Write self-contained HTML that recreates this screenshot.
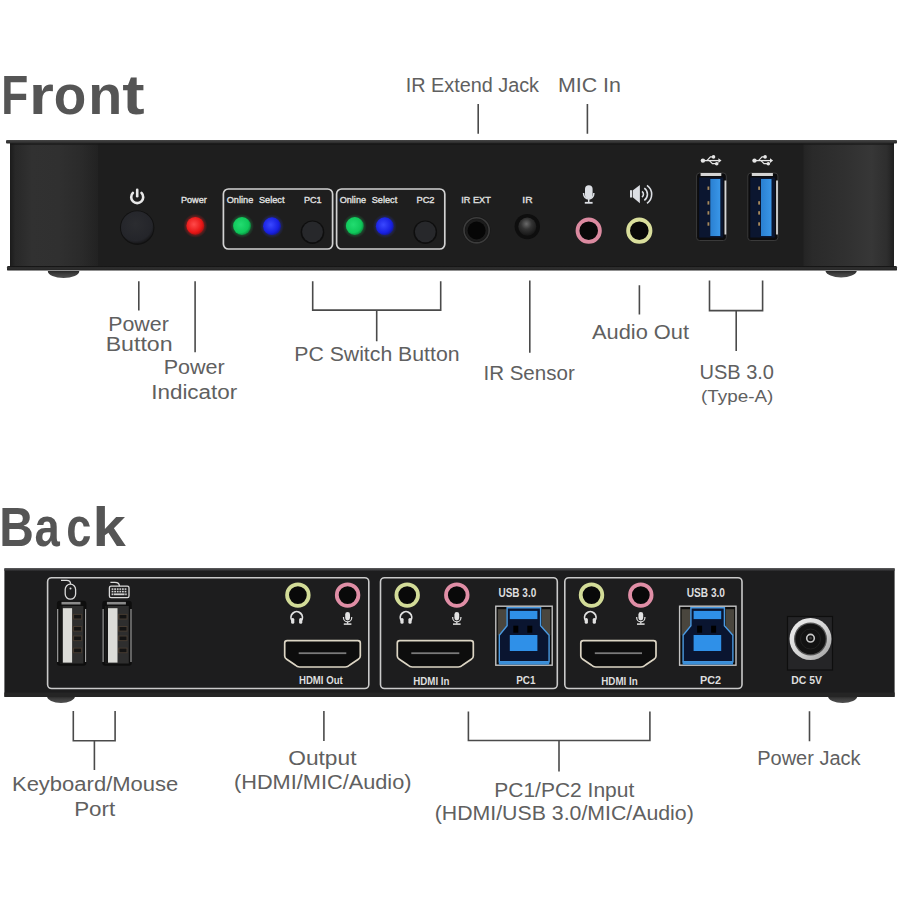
<!DOCTYPE html>
<html><head><meta charset="utf-8"><style>
html,body{margin:0;padding:0;background:#fff;}
body{width:900px;height:900px;overflow:hidden;}
svg{display:block;font-family:"Liberation Sans",sans-serif;}
</style></head><body>
<svg width="900" height="900" viewBox="0 0 900 900">
<defs>
<linearGradient id="capL" x1="0" x2="1" y1="0" y2="0">
 <stop offset="0" stop-color="#1b1b1b"/><stop offset="0.06" stop-color="#282828"/>
 <stop offset="0.25" stop-color="#313131"/><stop offset="0.55" stop-color="#303030"/>
 <stop offset="0.82" stop-color="#2a2a2a"/><stop offset="1" stop-color="#222"/></linearGradient>
<linearGradient id="capR" x1="0" x2="1" y1="0" y2="0">
 <stop offset="0" stop-color="#242424"/><stop offset="0.1" stop-color="#2a2a2a"/>
 <stop offset="0.5" stop-color="#313131"/><stop offset="0.75" stop-color="#373737"/>
 <stop offset="0.92" stop-color="#2e2e2e"/><stop offset="1" stop-color="#1f1f1f"/></linearGradient>
<linearGradient id="topEdge" x1="0" x2="0" y1="0" y2="1">
 <stop offset="0" stop-color="#5e5e60"/><stop offset="1" stop-color="#242426"/></linearGradient>
<linearGradient id="foot" x1="0" x2="0" y1="0" y2="1">
 <stop offset="0" stop-color="#262626"/><stop offset="0.45" stop-color="#3e3e3e"/><stop offset="1" stop-color="#505050"/></linearGradient>
<radialGradient id="ledR" cx="0.42" cy="0.42" r="0.6">
 <stop offset="0" stop-color="#ff4a4a"/><stop offset="0.75" stop-color="#e81616"/><stop offset="1" stop-color="#b01010"/></radialGradient>
<radialGradient id="ledG" cx="0.42" cy="0.42" r="0.6">
 <stop offset="0" stop-color="#22dc70"/><stop offset="0.75" stop-color="#0fc85a"/><stop offset="1" stop-color="#0a9040"/></radialGradient>
<radialGradient id="ledB" cx="0.42" cy="0.42" r="0.6">
 <stop offset="0" stop-color="#3a48ff"/><stop offset="0.75" stop-color="#1820e2"/><stop offset="1" stop-color="#1218a0"/></radialGradient>
<radialGradient id="glowR"><stop offset="0.6" stop-color="#ff2020" stop-opacity="0.5"/><stop offset="1" stop-color="#ff2020" stop-opacity="0"/></radialGradient>
<radialGradient id="glowG"><stop offset="0.6" stop-color="#20ff70" stop-opacity="0.3"/><stop offset="1" stop-color="#20ff70" stop-opacity="0"/></radialGradient>
<radialGradient id="glowB"><stop offset="0.6" stop-color="#3040ff" stop-opacity="0.35"/><stop offset="1" stop-color="#3040ff" stop-opacity="0"/></radialGradient>
<radialGradient id="btn" cx="0.45" cy="0.4" r="0.6">
 <stop offset="0" stop-color="#2b2c30"/><stop offset="0.85" stop-color="#24252a"/><stop offset="1" stop-color="#18181a"/></radialGradient>
<radialGradient id="dome" cx="0.45" cy="0.35" r="0.6">
 <stop offset="0" stop-color="#6a6a6a"/><stop offset="0.5" stop-color="#333"/><stop offset="1" stop-color="#1a1a1a"/></radialGradient>
<linearGradient id="usbBlue" x1="0" x2="1"><stop offset="0" stop-color="#2a80d2"/><stop offset="1" stop-color="#3996e8"/></linearGradient>
<linearGradient id="dcRing" x1="0" y1="0" x2="1" y2="1">
 <stop offset="0" stop-color="#f0f0f0"/><stop offset="0.55" stop-color="#d4d4d4"/><stop offset="1" stop-color="#9a9a9a"/></linearGradient>
<linearGradient id="lip" x1="0" x2="0" y1="0" y2="1"><stop offset="0" stop-color="#474747"/><stop offset="1" stop-color="#262626"/></linearGradient>
<linearGradient id="lip2" x1="0" x2="0" y1="0" y2="1"><stop offset="0" stop-color="#1a1a1a"/><stop offset="0.3" stop-color="#333"/><stop offset="1" stop-color="#222"/></linearGradient>
</defs>
<path d="M47.8 271 A15.7 7 0 0 0 79.3 271 Z" fill="url(#foot)"/>
<path d="M825.5 271 A15.7 7 0 0 0 856.8 271 Z" fill="url(#foot)"/>
<rect x="10" y="142" width="884" height="126" fill="#1e1e1e"/>
<rect x="10" y="143" width="88" height="124" fill="url(#capL)"/>
<rect x="803.5" y="143" width="90.5" height="124" fill="url(#capR)"/>
<rect x="6" y="140" width="891" height="3.6" rx="1" fill="url(#lip)"/>
<rect x="10" y="143.6" width="884" height="1" fill="#161616"/>
<rect x="7" y="266" width="890" height="4.6" rx="1.2" fill="url(#lip2)"/>
<rect x="10" y="266.2" width="884" height="1" fill="#151515"/>
<path d="M132.9 192.9 A6 6 0 1 0 141.5 192.9" fill="none" stroke="#e8e8e8" stroke-width="2.6" stroke-linecap="round"/>
<line x1="137.2" y1="189.8" x2="137.2" y2="196.2" stroke="#e8e8e8" stroke-width="2.6" stroke-linecap="round"/>
<circle cx="137.2" cy="227.7" r="17.2" fill="#111"/>
<circle cx="137.2" cy="227.4" r="16.2" fill="url(#btn)"/>
<circle cx="195.3" cy="225.8" r="12" fill="url(#glowR)"/>
<circle cx="195.3" cy="225.8" r="8.9" fill="url(#ledR)"/>
<rect x="223.4" y="189" width="109.2" height="60" rx="5" fill="none" stroke="#d2d2d2" stroke-width="1.7"/>
<rect x="336.6" y="189" width="108.2" height="60" rx="5" fill="none" stroke="#d2d2d2" stroke-width="1.7"/>
<circle cx="242" cy="226" r="12" fill="url(#glowG)"/>
<circle cx="242" cy="226" r="8.9" fill="url(#ledG)"/>
<circle cx="272" cy="226.2" r="12" fill="url(#glowB)"/>
<circle cx="272" cy="226.2" r="8.9" fill="url(#ledB)"/>
<circle cx="312.5" cy="232.2" r="11.8" fill="#0e0e0e"/>
<circle cx="312.5" cy="231.8" r="10.4" fill="#27282b"/>
<circle cx="354.8" cy="226" r="12" fill="url(#glowG)"/>
<circle cx="354.8" cy="226" r="8.9" fill="url(#ledG)"/>
<circle cx="384.8" cy="226.2" r="12" fill="url(#glowB)"/>
<circle cx="384.8" cy="226.2" r="8.9" fill="url(#ledB)"/>
<circle cx="425.3" cy="232.2" r="11.8" fill="#0e0e0e"/>
<circle cx="425.3" cy="231.8" r="10.4" fill="#27282b"/>
<circle cx="476.6" cy="230.3" r="13.8" fill="#161616"/>
<circle cx="476.6" cy="230.3" r="12.6" fill="none" stroke="#3c3c3c" stroke-width="1.6"/>
<circle cx="476.6" cy="230.3" r="11.2" fill="#1c1c1c"/>
<circle cx="476.6" cy="230.5" r="9" fill="#060606"/>
<circle cx="527.3" cy="226.6" r="12.7" fill="#0e0e0e"/>
<circle cx="527.3" cy="226.6" r="9" fill="url(#dome)"/>
<circle cx="588.7" cy="230.7" r="11.2" fill="#090909" stroke="#db8aa0" stroke-width="3.8"/>
<circle cx="639.3" cy="230.7" r="11.2" fill="#090909" stroke="#d9de9c" stroke-width="3.8"/>
<rect x="585" y="185.3" width="7.6" height="13.5" rx="3.8" fill="#dcdfe4"/>
<path d="M583.6 193 v0.8 a5.1 5.1 0 0 0 10.2 0 v-0.8" fill="none" stroke="#dcdfe4" stroke-width="1.5"/>
<line x1="588.7" y1="198.5" x2="588.7" y2="202.5" stroke="#dcdfe4" stroke-width="1.5"/>
<line x1="584.8" y1="202.8" x2="592.6" y2="202.8" stroke="#dcdfe4" stroke-width="1.8"/>
<rect x="630" y="190.2" width="2.3" height="7.3" fill="#dcdfe4"/>
<path d="M633 190.3 L639.9 185 V203.3 L633 197.5 Z" fill="#dcdfe4"/>
<path d="M642 191.4 a3.6 3.6 0 0 1 0 5.8 M644.3 188.2 a7.5 7.5 0 0 1 0 12.2 M647 185.3 a11 11 0 0 1 0 18" fill="none" stroke="#dcdfe4" stroke-width="1.6"/>
<g fill="#e6e6e6" stroke="#e6e6e6"><circle cx="702.9" cy="160.6" r="2.2" stroke="none"/><line x1="702.9" y1="160.6" x2="718.9" y2="160.6" stroke-width="1.3"/><path d="M718.4 158.29999999999998 L721.5 160.6 L718.4 162.9 Z" stroke="none"/><path d="M706.9 160.6 L710.4 156.9 H713.4" fill="none" stroke-width="1.2"/><path d="M709.4 160.6 L712.4 163.7 H716.4" fill="none" stroke-width="1.2"/><circle cx="713.5" cy="156.9" r="1.8" stroke="none"/><circle cx="716.6999999999999" cy="163.7" r="1.8" stroke="none"/></g>
<g fill="#e6e6e6" stroke="#e6e6e6"><circle cx="754.5" cy="160.6" r="2.2" stroke="none"/><line x1="754.5" y1="160.6" x2="770.5" y2="160.6" stroke-width="1.3"/><path d="M770.0 158.29999999999998 L773.1 160.6 L770.0 162.9 Z" stroke="none"/><path d="M758.5 160.6 L762.0 156.9 H765.0" fill="none" stroke-width="1.2"/><path d="M761.0 160.6 L764.0 163.7 H768.0" fill="none" stroke-width="1.2"/><circle cx="765.1" cy="156.9" r="1.8" stroke="none"/><circle cx="768.3" cy="163.7" r="1.8" stroke="none"/></g>
<rect x="696.6" y="173" width="29.699999999999932" height="67.5" rx="3" fill="#0c0c0e" stroke="#3a3a3a" stroke-width="1"/>
<rect x="700.6" y="173" width="20.699999999999932" height="3" fill="#d4d4d4"/>
<rect x="724.5" y="180.5" width="1.8" height="54" fill="#d6d6d6"/>
<rect x="699.1" y="177.5" width="24.199999999999932" height="60" fill="#0b1630"/>
<rect x="710.3" y="179" width="10.0" height="57" fill="url(#usbBlue)"/>
<rect x="707.5" y="186.5" width="1.8" height="3.4" fill="#a88a5c"/>
<rect x="707.5" y="201.2" width="1.8" height="3.4" fill="#a88a5c"/>
<rect x="707.5" y="211.2" width="1.8" height="3.4" fill="#a88a5c"/>
<rect x="707.5" y="222.3" width="1.8" height="3.4" fill="#a88a5c"/>
<rect x="747.8" y="173" width="30.100000000000023" height="67.5" rx="3" fill="#0c0c0e" stroke="#3a3a3a" stroke-width="1"/>
<rect x="751.8" y="173" width="21.100000000000023" height="3" fill="#d4d4d4"/>
<rect x="776.1" y="180.5" width="1.8" height="54" fill="#d6d6d6"/>
<rect x="750.3" y="177.5" width="24.600000000000023" height="60" fill="#0b1630"/>
<rect x="761" y="179" width="10.5" height="57" fill="url(#usbBlue)"/>
<rect x="758.2" y="186.5" width="1.8" height="3.4" fill="#a88a5c"/>
<rect x="758.2" y="201.2" width="1.8" height="3.4" fill="#a88a5c"/>
<rect x="758.2" y="211.2" width="1.8" height="3.4" fill="#a88a5c"/>
<rect x="758.2" y="222.3" width="1.8" height="3.4" fill="#a88a5c"/>
<path d="M47 696 A14 7 0 0 0 75 696 Z" fill="url(#foot)"/>
<path d="M828 696 A14.6 7 0 0 0 857.3 696 Z" fill="url(#foot)"/>
<rect x="4.4" y="568" width="890.2" height="129" rx="1" fill="#1d1d1e"/>
<rect x="4.4" y="568" width="890.2" height="3" rx="1" fill="url(#topEdge)"/>
<rect x="4.4" y="692.5" width="890.2" height="4.5" fill="#252525"/>
<rect x="47.6" y="577.7" width="321.2" height="110.8" rx="4" fill="none" stroke="#cacaca" stroke-width="1.6"/>
<rect x="380.5" y="577.7" width="176.79999999999995" height="110.8" rx="4" fill="none" stroke="#cacaca" stroke-width="1.6"/>
<rect x="564.8" y="577.7" width="177.20000000000005" height="110.8" rx="4" fill="none" stroke="#cacaca" stroke-width="1.6"/>
<g fill="none" stroke="#dadada" stroke-width="1.3"><rect x="65.2" y="584.2" width="10.4" height="15" rx="5.2"/><path d="M70.6 584.2 q0 -3.8 -4 -3.8 h-5.6"/><rect x="109.4" y="586.2" width="19.6" height="11.4" rx="1.6"/><path d="M119.4 586.2 q0 -3.8 -4.5 -3.8 h-4.5"/></g>
<circle cx="70.5" cy="588.6" r="1" fill="#e0e0e0"/>
<g fill="#cfcfcf"><rect x="111.6" y="588.3" width="1.8" height="1.6"/><rect x="111.6" y="590.8" width="1.8" height="1.6"/><rect x="114.19999999999999" y="588.3" width="1.8" height="1.6"/><rect x="114.19999999999999" y="590.8" width="1.8" height="1.6"/><rect x="116.8" y="588.3" width="1.8" height="1.6"/><rect x="116.8" y="590.8" width="1.8" height="1.6"/><rect x="119.39999999999999" y="588.3" width="1.8" height="1.6"/><rect x="119.39999999999999" y="590.8" width="1.8" height="1.6"/><rect x="122.0" y="588.3" width="1.8" height="1.6"/><rect x="122.0" y="590.8" width="1.8" height="1.6"/><rect x="124.6" y="588.3" width="1.8" height="1.6"/><rect x="124.6" y="590.8" width="1.8" height="1.6"/><rect x="113.6" y="593.4" width="11" height="1.8"/><rect x="111.6" y="593.4" width="1.5" height="1.8"/><rect x="125.2" y="593.4" width="1.5" height="1.8"/></g>
<rect x="56.9" y="600.8" width="29.5" height="65" rx="3" fill="#0e0e0e"/>
<path d="M57.699999999999996 609 V662 M85.6 609 V662" stroke="#a8a8a8" stroke-width="1.1"/>
<rect x="61.5" y="601.9" width="19" height="2.6" fill="#8a8a8a"/>
<rect x="59.9" y="606" width="23.5" height="57.5" fill="#2e2e2e"/>
<rect x="62.6" y="608.2" width="9.5" height="54.4" fill="#dcdcd8"/>
<rect x="59.9" y="606" width="2.7" height="57.5" fill="#161616"/>
<rect x="72.6" y="613.9000000000001" width="9.5" height="5.6" fill="#453a30"/>
<rect x="74.1" y="614.9000000000001" width="7" height="3.6" fill="#141414"/>
<rect x="72.6" y="626.0" width="9.5" height="5.6" fill="#453a30"/>
<rect x="74.1" y="627.0" width="7" height="3.6" fill="#141414"/>
<rect x="72.6" y="635.5" width="9.5" height="5.6" fill="#453a30"/>
<rect x="74.1" y="636.5" width="7" height="3.6" fill="#141414"/>
<rect x="72.6" y="647.6" width="9.5" height="5.6" fill="#453a30"/>
<rect x="74.1" y="648.6" width="7" height="3.6" fill="#141414"/>
<rect x="102.3" y="600.8" width="29.5" height="65" rx="3" fill="#0e0e0e"/>
<path d="M103.1 609 V662 M131.0 609 V662" stroke="#a8a8a8" stroke-width="1.1"/>
<rect x="106.89999999999999" y="601.9" width="19" height="2.6" fill="#8a8a8a"/>
<rect x="105.3" y="606" width="23.5" height="57.5" fill="#2e2e2e"/>
<rect x="108.0" y="608.2" width="9.5" height="54.4" fill="#dcdcd8"/>
<rect x="105.3" y="606" width="2.7" height="57.5" fill="#161616"/>
<rect x="118.0" y="613.9000000000001" width="9.5" height="5.6" fill="#453a30"/>
<rect x="119.5" y="614.9000000000001" width="7" height="3.6" fill="#141414"/>
<rect x="118.0" y="626.0" width="9.5" height="5.6" fill="#453a30"/>
<rect x="119.5" y="627.0" width="7" height="3.6" fill="#141414"/>
<rect x="118.0" y="635.5" width="9.5" height="5.6" fill="#453a30"/>
<rect x="119.5" y="636.5" width="7" height="3.6" fill="#141414"/>
<rect x="118.0" y="647.6" width="9.5" height="5.6" fill="#453a30"/>
<rect x="119.5" y="648.6" width="7" height="3.6" fill="#141414"/>
<circle cx="297.9" cy="595.1" r="10.8" fill="#090909" stroke="#d3dc98" stroke-width="3.8"/>
<circle cx="347.6" cy="595.1" r="10.8" fill="#090909" stroke="#e08ea6" stroke-width="3.8"/>
<path d="M292.3 621.0 A5.7 5.7 0 1 1 301.09999999999997 621.0" fill="none" stroke="#e2e2e2" stroke-width="1.8"/>
<rect x="291.09999999999997" y="618.0" width="3.2" height="5.8" rx="1.5" fill="#e2e2e2"/><rect x="299.09999999999997" y="618.0" width="3.2" height="5.8" rx="1.5" fill="#e2e2e2"/>
<rect x="345.20000000000005" y="612.0" width="4.8" height="8.5" rx="2.4" fill="#e2e2e2"/>
<path d="M343.5 617.0 v0.8 a4.1 4.1 0 0 0 8.2 0 v-0.8" fill="none" stroke="#e2e2e2" stroke-width="1.2"/>
<line x1="347.6" y1="621.9" x2="347.6" y2="623.8" stroke="#e2e2e2" stroke-width="1.2"/><line x1="343.8" y1="624.1" x2="351.40000000000003" y2="624.1" stroke="#e2e2e2" stroke-width="1.5"/>
<path d="M287.2 640.6 H357.8 Q360.3 640.6 360.3 643 V656 Q360.3 658 358.3 659.3 L349.8 665 Q347.8 667 345.3 667 H299.7 Q297.2 667 295.2 665 L286.7 659.3 Q284.7 658 284.7 656 V643 Q284.7 640.6 287.2 640.6 Z" fill="#0d0d0d" stroke="#dcd5c4" stroke-width="1.7" stroke-linejoin="round"/>
<rect x="298.7" y="652.3" width="47.60000000000002" height="1.8" fill="#7a7a7a"/>
<circle cx="407.2" cy="595.1" r="10.8" fill="#090909" stroke="#d3dc98" stroke-width="3.8"/>
<circle cx="456.8" cy="595.1" r="10.8" fill="#090909" stroke="#e08ea6" stroke-width="3.8"/>
<path d="M401.6 621.0 A5.7 5.7 0 1 1 410.4 621.0" fill="none" stroke="#e2e2e2" stroke-width="1.8"/>
<rect x="400.4" y="618.0" width="3.2" height="5.8" rx="1.5" fill="#e2e2e2"/><rect x="408.4" y="618.0" width="3.2" height="5.8" rx="1.5" fill="#e2e2e2"/>
<rect x="454.40000000000003" y="612.0" width="4.8" height="8.5" rx="2.4" fill="#e2e2e2"/>
<path d="M452.7 617.0 v0.8 a4.1 4.1 0 0 0 8.2 0 v-0.8" fill="none" stroke="#e2e2e2" stroke-width="1.2"/>
<line x1="456.8" y1="621.9" x2="456.8" y2="623.8" stroke="#e2e2e2" stroke-width="1.2"/><line x1="453.0" y1="624.1" x2="460.6" y2="624.1" stroke="#e2e2e2" stroke-width="1.5"/>
<path d="M399.8 640.6 H470.8 Q473.3 640.6 473.3 643 V656 Q473.3 658 471.3 659.3 L462.8 665 Q460.8 667 458.3 667 H412.3 Q409.8 667 407.8 665 L399.3 659.3 Q397.3 658 397.3 656 V643 Q397.3 640.6 399.8 640.6 Z" fill="#0d0d0d" stroke="#dcd5c4" stroke-width="1.7" stroke-linejoin="round"/>
<rect x="411.3" y="652.3" width="48.0" height="1.8" fill="#7a7a7a"/>
<circle cx="591.5" cy="595.1" r="10.8" fill="#090909" stroke="#d3dc98" stroke-width="3.8"/>
<circle cx="640.8" cy="595.1" r="10.8" fill="#090909" stroke="#e08ea6" stroke-width="3.8"/>
<path d="M585.9 621.0 A5.7 5.7 0 1 1 594.6999999999999 621.0" fill="none" stroke="#e2e2e2" stroke-width="1.8"/>
<rect x="584.6999999999999" y="618.0" width="3.2" height="5.8" rx="1.5" fill="#e2e2e2"/><rect x="592.6999999999999" y="618.0" width="3.2" height="5.8" rx="1.5" fill="#e2e2e2"/>
<rect x="638.4" y="612.0" width="4.8" height="8.5" rx="2.4" fill="#e2e2e2"/>
<path d="M636.6999999999999 617.0 v0.8 a4.1 4.1 0 0 0 8.2 0 v-0.8" fill="none" stroke="#e2e2e2" stroke-width="1.2"/>
<line x1="640.8" y1="621.9" x2="640.8" y2="623.8" stroke="#e2e2e2" stroke-width="1.2"/><line x1="637.0" y1="624.1" x2="644.5999999999999" y2="624.1" stroke="#e2e2e2" stroke-width="1.5"/>
<path d="M583.3 640.6 H653.5 Q656 640.6 656 643 V656 Q656 658 654 659.3 L645.5 665 Q643.5 667 641 667 H595.8 Q593.3 667 591.3 665 L582.8 659.3 Q580.8 658 580.8 656 V643 Q580.8 640.6 583.3 640.6 Z" fill="#0d0d0d" stroke="#dcd5c4" stroke-width="1.7" stroke-linejoin="round"/>
<rect x="594.8" y="652.3" width="47.200000000000045" height="1.8" fill="#7a7a7a"/>
<rect x="495.8" y="606.2" width="56.4" height="59" fill="#0c0c0c" stroke="#c4c4c4" stroke-width="1.4"/>
<rect x="497.8" y="609.2" width="9" height="26" fill="#4a463e"/>
<rect x="541.8" y="609.2" width="8.5" height="26" fill="#4a463e"/>
<path d="M507.1 607.7 H540.6 V625.7 L549.1 635.2 V661.7 H499.3 V635.2 L507.1 625.7 Z" fill="#0a1530" stroke="#4a9ae2" stroke-width="1.4"/>
<rect x="509.8" y="610.9000000000001" width="27.6" height="8.2" fill="#2f90e8"/>
<rect x="513.3" y="625.7" width="5" height="7" fill="#000"/><rect x="527.3" y="625.7" width="5" height="7" fill="#000"/>
<rect x="509.8" y="635.0" width="27.6" height="16" fill="#2f90e8"/>
<rect x="498.8" y="661.4000000000001" width="50.4" height="3.2" fill="#3a8ed8"/>
<rect x="679.6" y="606.2" width="56.4" height="59" fill="#0c0c0c" stroke="#c4c4c4" stroke-width="1.4"/>
<rect x="681.6" y="609.2" width="9" height="26" fill="#4a463e"/>
<rect x="725.6" y="609.2" width="8.5" height="26" fill="#4a463e"/>
<path d="M690.9 607.7 H724.4 V625.7 L732.9 635.2 V661.7 H683.1 V635.2 L690.9 625.7 Z" fill="#0a1530" stroke="#4a9ae2" stroke-width="1.4"/>
<rect x="693.6" y="610.9000000000001" width="27.6" height="8.2" fill="#2f90e8"/>
<rect x="697.1" y="625.7" width="5" height="7" fill="#000"/><rect x="711.1" y="625.7" width="5" height="7" fill="#000"/>
<rect x="693.6" y="635.0" width="27.6" height="16" fill="#2f90e8"/>
<rect x="682.6" y="661.4000000000001" width="50.4" height="3.2" fill="#3a8ed8"/>
<rect x="787.5" y="616.5" width="45" height="53.5" fill="#252527" stroke="#0e0e0e" stroke-width="1.2"/>
<circle cx="810.5" cy="639" r="21" fill="url(#dcRing)"/>
<circle cx="810.5" cy="639" r="16.5" fill="#555"/>
<circle cx="810.5" cy="639" r="15.2" fill="#121212"/>
<circle cx="810.5" cy="639" r="10" fill="none" stroke="#202020" stroke-width="1"/>
<circle cx="810.5" cy="638.2" r="3.8" fill="none" stroke="#c8c8c8" stroke-width="1.6"/><circle cx="810.5" cy="638.2" r="1.4" fill="#3a3a3a"/>
<path d="M478.2 104 V133.7 M587.4 104 V133.7 M138.8 281.2 V310.6 M195.1 281.2 V352.3 M312.7 281.2 V310.1 H440.7 V281.2 M376.7 310.1 V341.2 M529.8 280.5 V352.7 M639.4 285.3 V314.6 M709.5 280.5 V310.6 H762.6 V280.5 M736.2 310.6 V350.9 M73.3 711.1 V740.7 H115.1 V711.1 M94.4 740.7 V770 M323.9 711 V741 M468.4 711.4 V740.5 H649.9 V711.4 M559 740.5 V771.4 M809.5 711.2 V741.2" fill="none" stroke="#4a4a4a" stroke-width="1.6"/>
<text x="405.72" y="92.40" font-size="20" font-weight="normal" fill="#606060"  textLength="133.28" lengthAdjust="spacingAndGlyphs">IR Extend Jack</text>
<text x="557.91" y="92.40" font-size="20" font-weight="normal" fill="#606060"  textLength="62.91" lengthAdjust="spacingAndGlyphs">MIC In</text>
<text x="108.19" y="330.50" font-size="20" font-weight="normal" fill="#606060"  textLength="60.57" lengthAdjust="spacingAndGlyphs">Power</text>
<text x="105.66" y="351.40" font-size="20" font-weight="normal" fill="#606060"  textLength="66.91" lengthAdjust="spacingAndGlyphs">Button</text>
<text x="163.69" y="373.70" font-size="20" font-weight="normal" fill="#606060"  textLength="61.07" lengthAdjust="spacingAndGlyphs">Power</text>
<text x="151.19" y="398.60" font-size="20" font-weight="normal" fill="#606060"  textLength="86.07" lengthAdjust="spacingAndGlyphs">Indicator</text>
<text x="294.22" y="360.60" font-size="20" font-weight="normal" fill="#606060"  textLength="165.31" lengthAdjust="spacingAndGlyphs">PC Switch Button</text>
<text x="483.45" y="379.50" font-size="20" font-weight="normal" fill="#606060"  textLength="91.30" lengthAdjust="spacingAndGlyphs">IR Sensor</text>
<text x="592.00" y="339.20" font-size="20" font-weight="normal" fill="#606060"  textLength="97.00" lengthAdjust="spacingAndGlyphs">Audio Out</text>
<text x="699.45" y="379.00" font-size="20" font-weight="normal" fill="#606060"  textLength="74.57" lengthAdjust="spacingAndGlyphs">USB 3.0</text>
<text x="700.97" y="401.70" font-size="17" font-weight="normal" fill="#606060"  textLength="72.32" lengthAdjust="spacingAndGlyphs">(Type-A)</text>
<text x="11.97" y="791.10" font-size="20" font-weight="normal" fill="#606060"  textLength="166.30" lengthAdjust="spacingAndGlyphs">Keyboard/Mouse</text>
<text x="74.16" y="815.60" font-size="20" font-weight="normal" fill="#606060"  textLength="41.09" lengthAdjust="spacingAndGlyphs">Port</text>
<text x="288.23" y="764.80" font-size="20" font-weight="normal" fill="#606060"  textLength="68.27" lengthAdjust="spacingAndGlyphs">Output</text>
<text x="233.98" y="788.50" font-size="20" font-weight="normal" fill="#606060"  textLength="177.54" lengthAdjust="spacingAndGlyphs">(HDMI/MIC/Audio)</text>
<text x="494.22" y="796.60" font-size="20" font-weight="normal" fill="#606060"  textLength="140.03" lengthAdjust="spacingAndGlyphs">PC1/PC2 Input</text>
<text x="434.74" y="820.00" font-size="20" font-weight="normal" fill="#606060"  textLength="259.02" lengthAdjust="spacingAndGlyphs">(HDMI/USB 3.0/MIC/Audio)</text>
<text x="757.23" y="765.30" font-size="20" font-weight="normal" fill="#606060"  textLength="103.27" lengthAdjust="spacingAndGlyphs">Power Jack</text>
<text x="1.23" y="114.20" font-size="55" font-weight="bold" fill="#555555"  textLength="27.06" lengthAdjust="spacingAndGlyphs">F</text>
<text x="29.10" y="114.20" font-size="55" font-weight="bold" fill="#555555"  textLength="24.85" lengthAdjust="spacingAndGlyphs">r</text>
<text x="53.75" y="114.20" font-size="55" font-weight="bold" fill="#555555"  textLength="32.49" lengthAdjust="spacingAndGlyphs">o</text>
<text x="88.25" y="114.20" font-size="55" font-weight="bold" fill="#555555"  textLength="33.99" lengthAdjust="spacingAndGlyphs">n</text>
<text x="122.19" y="114.20" font-size="55" font-weight="bold" fill="#555555"  textLength="22.37" lengthAdjust="spacingAndGlyphs">t</text>
<text x="-0.76" y="545.80" font-size="55" font-weight="bold" fill="#555555"  textLength="34.62" lengthAdjust="spacingAndGlyphs">B</text>
<text x="34.44" y="545.80" font-size="55" font-weight="bold" fill="#555555"  textLength="25.29" lengthAdjust="spacingAndGlyphs">a</text>
<text x="66.29" y="545.80" font-size="55" font-weight="bold" fill="#555555"  textLength="25.14" lengthAdjust="spacingAndGlyphs">c</text>
<text x="92.49" y="545.80" font-size="55" font-weight="bold" fill="#555555"  textLength="33.27" lengthAdjust="spacingAndGlyphs">k</text>
<text x="180.97" y="203.30" font-size="9.2" font-weight="normal" fill="#dedede" stroke="#dedede" stroke-width="0.4" textLength="25.78" lengthAdjust="spacingAndGlyphs">Power</text>
<text x="226.73" y="203.30" font-size="9.2" font-weight="normal" fill="#dedede" stroke="#dedede" stroke-width="0.4" textLength="26.53" lengthAdjust="spacingAndGlyphs">Online</text>
<text x="258.99" y="203.30" font-size="9.2" font-weight="normal" fill="#dedede" stroke="#dedede" stroke-width="0.4" textLength="25.51" lengthAdjust="spacingAndGlyphs">Select</text>
<text x="303.96" y="203.30" font-size="9.2" font-weight="normal" fill="#dedede" stroke="#dedede" stroke-width="0.4" textLength="17.57" lengthAdjust="spacingAndGlyphs">PC1</text>
<text x="339.74" y="203.30" font-size="9.2" font-weight="normal" fill="#dedede" stroke="#dedede" stroke-width="0.4" textLength="26.27" lengthAdjust="spacingAndGlyphs">Online</text>
<text x="371.74" y="203.30" font-size="9.2" font-weight="normal" fill="#dedede" stroke="#dedede" stroke-width="0.4" textLength="25.51" lengthAdjust="spacingAndGlyphs">Select</text>
<text x="416.45" y="203.30" font-size="9.2" font-weight="normal" fill="#dedede" stroke="#dedede" stroke-width="0.4" textLength="18.07" lengthAdjust="spacingAndGlyphs">PC2</text>
<text x="461.23" y="203.30" font-size="9.2" font-weight="normal" fill="#dedede" stroke="#dedede" stroke-width="0.4" textLength="29.53" lengthAdjust="spacingAndGlyphs">IR EXT</text>
<text x="522.38" y="203.30" font-size="9.2" font-weight="normal" fill="#dedede" stroke="#dedede" stroke-width="0.4" textLength="10.21" lengthAdjust="spacingAndGlyphs">IR</text>
<text x="298.99" y="684.30" font-size="10" font-weight="bold" fill="#dedede"  textLength="43.76" lengthAdjust="spacingAndGlyphs">HDMI Out</text>
<text x="413.23" y="684.60" font-size="10" font-weight="bold" fill="#dedede"  textLength="36.30" lengthAdjust="spacingAndGlyphs">HDMI In</text>
<text x="601.23" y="684.60" font-size="10" font-weight="bold" fill="#dedede"  textLength="36.55" lengthAdjust="spacingAndGlyphs">HDMI In</text>
<text x="498.49" y="596.70" font-size="12" font-weight="bold" fill="#dedede"  textLength="37.77" lengthAdjust="spacingAndGlyphs">USB 3.0</text>
<text x="686.73" y="596.70" font-size="12" font-weight="bold" fill="#dedede"  textLength="38.28" lengthAdjust="spacingAndGlyphs">USB 3.0</text>
<text x="516.21" y="683.70" font-size="11" font-weight="bold" fill="#dedede"  textLength="19.31" lengthAdjust="spacingAndGlyphs">PC1</text>
<text x="699.97" y="683.50" font-size="11" font-weight="bold" fill="#dedede"  textLength="21.05" lengthAdjust="spacingAndGlyphs">PC2</text>
<text x="791.24" y="683.50" font-size="11" font-weight="bold" fill="#dedede"  textLength="30.76" lengthAdjust="spacingAndGlyphs">DC 5V</text>
</svg></body></html>
